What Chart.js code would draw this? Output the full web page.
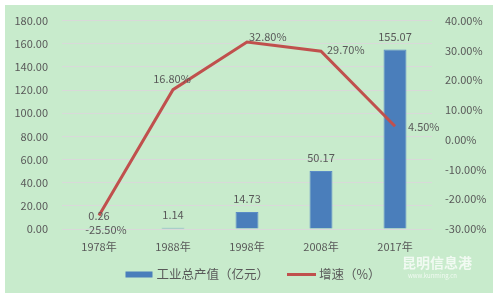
<!DOCTYPE html>
<html><head><meta charset="utf-8">
<script src="https://cdn.jsdelivr.net/npm/chart.js@4.4.1/dist/chart.umd.min.js"></script>
<style>html,body{margin:0;padding:0;background:#fff}#c{display:block}</style>
</head><body>
<canvas id="c" width="500" height="300"></canvas>
<script>
const categories = ['1978年', '1988年', '1998年', '2008年', '2017年'];
const outputValues = [0.26, 1.14, 14.73, 50.17, 155.07];
const growthRates = [-25.5, 16.8, 32.8, 29.7, 4.5];
const leftTickValues = [0, 20, 40, 60, 80, 100, 120, 140, 160, 180];
const rightTickValues = [-30, -20, -10, 0, 10, 20, 30, 40];
const seriesNames = ['工业总产值（亿元）', '增速（%）'];

const FONT = "'Noto Sans CJK SC', 'Liberation Sans', sans-serif";
const TXT = '#595959';
const BAR_COLOR = '#4a7ebb';
const LINE_COLOR = '#c0504d';

const bgPlugin = {
  id: 'bg',
  beforeDraw(chart) {
    const ctx = chart.ctx;
    ctx.save();
    ctx.fillStyle = '#ffffff';
    ctx.fillRect(0, 0, chart.width, chart.height);
    ctx.fillStyle = '#c8ebcc';
    ctx.fillRect(5, 5, 488, 288);
    ctx.restore();
  }
};

const labelPlugin = {
  id: 'vlabels',
  afterDatasetsDraw(chart, args, opts) {
    const ctx = chart.ctx;
    ctx.save();
    ctx.font = '11px ' + FONT;
    ctx.fillStyle = TXT;
    ctx.textBaseline = 'middle';
    const barMeta = chart.getDatasetMeta(0);
    barMeta.data.forEach((el, i) => {
      ctx.textAlign = 'center';
      ctx.fillText(outputValues[i].toFixed(2), el.x, el.y - 13);
    });
    const lineMeta = chart.getDatasetMeta(1);
    lineMeta.data.forEach((el, i) => {
      const p = opts.linePlacement[i];
      ctx.textAlign = p.align;
      ctx.fillText(growthRates[i].toFixed(2) + '%', el.x + p.dx, el.y + p.dy);
    });
    ctx.restore();
  }
};

const legendPlugin = {
  id: 'customLegend',
  afterDraw(chart, args, opts) {
    const ctx = chart.ctx;
    const ds = chart.data.datasets;
    ctx.save();
    ctx.font = opts.fontSize + 'px ' + FONT;
    ctx.textBaseline = 'middle';
    ctx.textAlign = 'left';
    const w1 = ctx.measureText(ds[0].label).width;
    const w2 = ctx.measureText(ds[1].label).width;
    const total = opts.boxW + opts.gapText + w1 + opts.gapItem + opts.lineW + opts.gapText2 + w2;
    let x = chart.width / 2 - total / 2 + opts.shift;
    const y = opts.y;
    ctx.fillStyle = ds[0].backgroundColor;
    ctx.fillRect(x, y - opts.boxH / 2, opts.boxW, opts.boxH);
    x += opts.boxW + opts.gapText;
    ctx.fillStyle = TXT;
    ctx.fillText(ds[0].label, x, y);
    x += w1 + opts.gapItem;
    ctx.strokeStyle = ds[1].borderColor;
    ctx.lineWidth = 3;
    ctx.beginPath();
    ctx.moveTo(x, y);
    ctx.lineTo(x + opts.lineW, y);
    ctx.stroke();
    x += opts.lineW + opts.gapText2;
    ctx.fillStyle = TXT;
    ctx.fillText(ds[1].label, x, y);
    ctx.restore();
  }
};

const watermarkPlugin = {
  id: 'wm',
  afterDraw(chart) {
    const ctx = chart.ctx;
    ctx.save();
    ctx.fillStyle = 'rgba(255,255,255,0.75)';
    ctx.textAlign = 'left';
    ctx.textBaseline = 'middle';
    ctx.font = 'bold 14px ' + FONT;
    ctx.fillText('昆明信息港', 402, 263);
    ctx.font = '6px ' + FONT;
    ctx.fillText('www.kunming.cn', 408, 276);
    ctx.restore();
  }
};

new Chart(document.getElementById('c'), {
  data: {
    labels: categories,
    datasets: [
      {
        type: 'bar',
        label: seriesNames[0],
        data: outputValues,
        yAxisID: 'y',
        backgroundColor: BAR_COLOR,
        borderColor: '#5a8bc6',
        borderWidth: 1,
        barPercentage: 0.31,
        categoryPercentage: 1.0,
        order: 2
      },
      {
        type: 'line',
        label: seriesNames[1],
        data: growthRates,
        yAxisID: 'y1',
        borderColor: LINE_COLOR,
        backgroundColor: LINE_COLOR,
        borderWidth: 3,
        pointRadius: 0,
        tension: 0,
        order: 1
      }
    ]
  },
  options: {
    responsive: false,
    devicePixelRatio: 1,
    animation: false,
    layout: { padding: { top: 17, left: 0, right: 0, bottom: 47 } },
    scales: {
      x: {
        offset: true,
        grid: { display: false, drawTicks: false },
        border: { display: false },
        ticks: { color: TXT, font: { family: FONT, size: 11 }, padding: 11, maxRotation: 0 },
        afterFit(s) { s.height = 24; }
      },
      y: {
        position: 'left',
        min: 0, max: 180,
        afterBuildTicks(s) { s.ticks = leftTickValues.map(v => ({ value: v })); },
        grid: { color: '#d9d9d9', drawTicks: false, lineWidth: 1 },
        border: { display: false },
        ticks: { color: TXT, font: { family: FONT, size: 11 }, padding: 14, callback: v => Number(v).toFixed(2) },
        afterFit(s) { s.width = 62; }
      },
      y1: {
        position: 'right',
        min: -30, max: 40,
        afterBuildTicks(s) { s.ticks = rightTickValues.map(v => ({ value: v })); },
        grid: { display: false, drawTicks: false },
        border: { display: false },
        ticks: { color: TXT, font: { family: FONT, size: 11 }, padding: 13, callback: v => Number(v).toFixed(2) + '%' },
        afterFit(s) { s.width = 68; }
      }
    },
    plugins: {
      legend: { display: false },
      tooltip: { enabled: false },
      customLegend: { y: 274.5, fontSize: 12.5, boxW: 27, boxH: 6, lineW: 29, gapText: 4, gapText2: 3, gapItem: 18, shift: 3 },
      vlabels: {
        linePlacement: [
          { dx: 7, dy: 14.5, align: 'center' },
          { dx: -1, dy: -11, align: 'center' },
          { dx: 2, dy: -5, align: 'left' },
          { dx: 6, dy: -1, align: 'left' },
          { dx: 13, dy: 1, align: 'left' }
        ]
      }
    }
  },
  plugins: [bgPlugin, labelPlugin, legendPlugin, watermarkPlugin]
});
</script>
</body></html>
